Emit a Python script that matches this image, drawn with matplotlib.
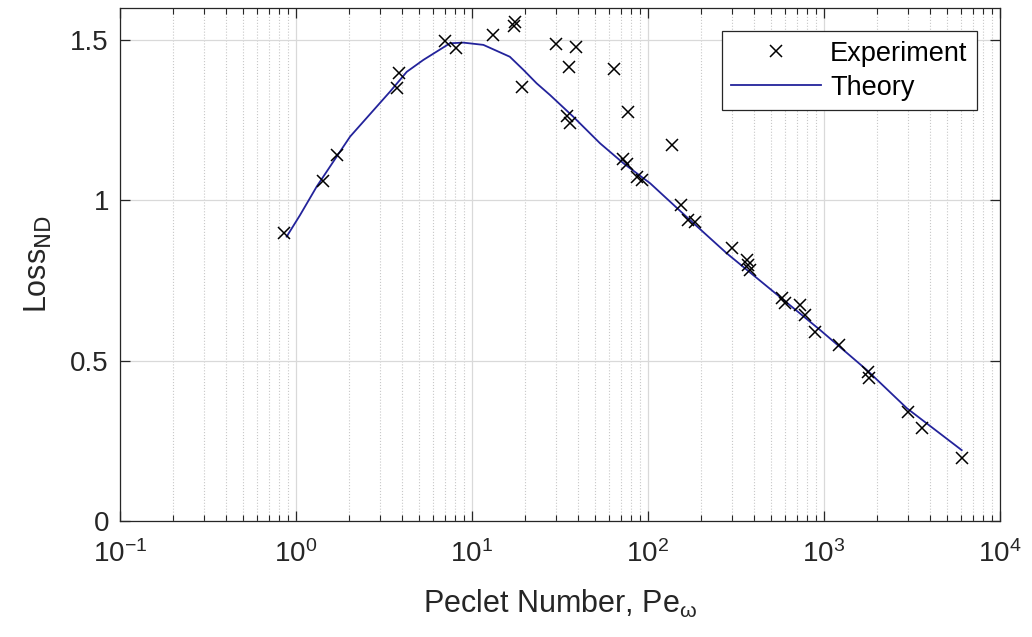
import matplotlib
matplotlib.use("Agg")
import matplotlib.pyplot as plt
from matplotlib.ticker import LogLocator, NullFormatter

plt.rcParams['font.family'] = ['Liberation Sans', 'DejaVu Sans']
plt.rcParams['mathtext.default'] = 'regular'

# experimental points (Peclet number, non-dimensional loss)
pe_exp = [0.855, 1.43, 1.70, 3.73, 3.85, 7.03, 8.08, 13.1, 17.3, 17.6, 19.3,
          29.9, 35.4, 39.0, 64.1, 77.3, 34.5, 36.0, 136, 72.4, 75.7, 86.3,
          92.1, 155, 169, 185, 299, 364, 372, 380, 575, 600, 731, 780, 889,
          1222, 1786, 1800, 3013, 3591, 6059]
loss_exp = [0.898, 1.060, 1.142, 1.350, 1.396, 1.498, 1.476, 1.516, 1.544, 1.556, 1.353,
            1.488, 1.417, 1.479, 1.410, 1.275, 1.263, 1.242, 1.173, 1.128, 1.113, 1.072,
            1.064, 0.986, 0.939, 0.934, 0.851, 0.814, 0.799, 0.783, 0.695, 0.679, 0.674, 0.643, 0.590,
            0.549, 0.466, 0.445, 0.341, 0.289, 0.196]

# theory curve
pe_th = [0.885, 1.054, 1.311, 1.70, 2.03, 2.87, 3.42, 4.26, 5.29, 7.50, 8.93, 11.6,
         16.4, 19.6, 23.3, 27.7, 37.6, 53.4, 72.4, 103, 173, 280, 949, 1750, 2953, 6059]
loss_th = [0.887, 0.954, 1.043, 1.136, 1.199, 1.292, 1.339, 1.401, 1.438, 1.490, 1.492, 1.485,
           1.448, 1.407, 1.365, 1.329, 1.261, 1.178, 1.116, 1.053, 0.939, 0.835, 0.596, 0.471, 0.352, 0.221]

fig = plt.figure(figsize=(10.32, 6.37), dpi=100)
ax = fig.add_axes([120 / 1032, 116 / 637, 880 / 1032, 513 / 637])

ax.plot(pe_exp, loss_exp, 'x', color='black', markersize=9, markeredgewidth=1.1,
        label='Experiment', zorder=3)
ax.plot(pe_th, loss_th, '-', color='#23239b', linewidth=1.3, label='Theory', zorder=2)

ax.set_xscale('log')
ax.set_xlim(0.1, 1e4)
ax.set_ylim(0, 1.6)
ax.set_yticks([0, 0.5, 1, 1.5])
ax.set_yticklabels(['0', '0.5', '1', '1.5'])
ax.xaxis.set_major_locator(LogLocator(base=10, numticks=10))
ax.xaxis.set_minor_locator(LogLocator(base=10, subs=range(2, 10), numticks=20))
ax.xaxis.set_minor_formatter(NullFormatter())

ax.grid(True, which='major', color='#d9d9d9', linewidth=0.9, linestyle='-')
ax.grid(True, which='minor', axis='x', color='#c8c8c8', linewidth=0.8, linestyle=':')
ax.set_axisbelow(True)

ax.tick_params(which='both', direction='in', top=True, right=True, labelsize=20,
               colors='#262626')
ax.tick_params(axis='y', pad=8)
ax.tick_params(axis='x', pad=14)
ax.tick_params(which='major', length=7, width=0.9)
ax.tick_params(which='minor', length=4, width=0.8)
for s in ax.spines.values():
    s.set_color('#262626')
    s.set_linewidth(0.9)

ax.set_xlabel(r'Peclet Number, Pe$_{\omega}$', fontsize=22, color='#262626', labelpad=14)
ax.set_ylabel(r'Loss$_{\mathrm{ND}}$', fontsize=22, color='#262626', labelpad=12)

leg = ax.legend(loc='upper right', fontsize=19.5, frameon=True, fancybox=False,
                edgecolor='#262626', framealpha=1, handlelength=3.3, handletextpad=0.35,
                labelspacing=0.3, borderpad=0.35, borderaxespad=0.85)
leg.get_frame().set_linewidth(0.9)

fig.savefig('out.png', dpi=100)
